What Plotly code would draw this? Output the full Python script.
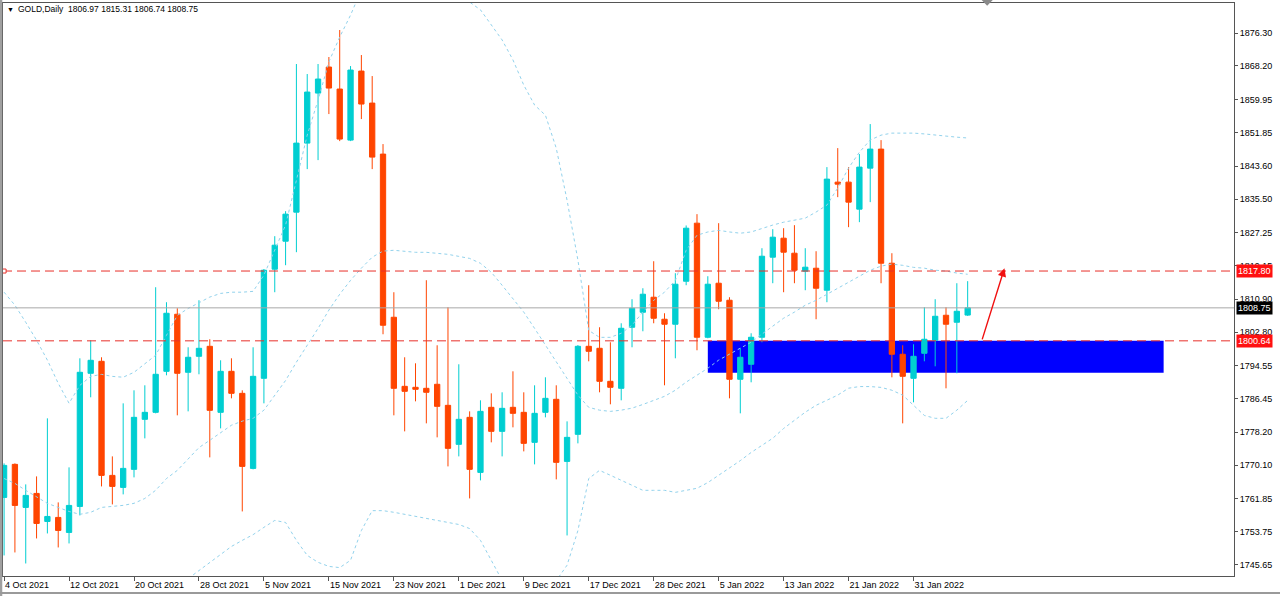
import plotly.graph_objects as go

# ---------------- data ----------------
dates = [
    "2021-10-04", "2021-10-05", "2021-10-06", "2021-10-07", "2021-10-08",
    "2021-10-11", "2021-10-12", "2021-10-13", "2021-10-14", "2021-10-15",
    "2021-10-18", "2021-10-19", "2021-10-20", "2021-10-21", "2021-10-22",
    "2021-10-25", "2021-10-26", "2021-10-27", "2021-10-28", "2021-10-29",
    "2021-11-01", "2021-11-02", "2021-11-03", "2021-11-04", "2021-11-05",
    "2021-11-08", "2021-11-09", "2021-11-10", "2021-11-11", "2021-11-12",
    "2021-11-15", "2021-11-16", "2021-11-17", "2021-11-18", "2021-11-19",
    "2021-11-22", "2021-11-23", "2021-11-24", "2021-11-25", "2021-11-26",
    "2021-11-29", "2021-11-30", "2021-12-01", "2021-12-02", "2021-12-03",
    "2021-12-06", "2021-12-07", "2021-12-08", "2021-12-09", "2021-12-10",
    "2021-12-13", "2021-12-14", "2021-12-15", "2021-12-16", "2021-12-17",
    "2021-12-20", "2021-12-21", "2021-12-22", "2021-12-23", "2021-12-27",
    "2021-12-28", "2021-12-29", "2021-12-30", "2021-12-31", "2022-01-03",
    "2022-01-04", "2022-01-05", "2022-01-06", "2022-01-07", "2022-01-10",
    "2022-01-11", "2022-01-12", "2022-01-13", "2022-01-14", "2022-01-17",
    "2022-01-18", "2022-01-19", "2022-01-20", "2022-01-21", "2022-01-24",
    "2022-01-25", "2022-01-26", "2022-01-27", "2022-01-28", "2022-01-31",
    "2022-02-01", "2022-02-02", "2022-02-03", "2022-02-04", "2022-02-07",
]

opens = [
    1762.16, 1770.28, 1759.70, 1763.14, 1756.25, 1757.24, 1753.55, 1759.94, 1792.66, 1795.61,
    1767.57, 1764.62, 1769.05, 1781.35, 1783.07, 1793.15, 1807.18, 1792.91, 1796.84, 1799.30,
    1783.07, 1793.15, 1787.74, 1769.29, 1791.43, 1818.25, 1825.13, 1832.27, 1849.24, 1861.54,
    1867.94, 1862.53, 1849.98, 1866.95, 1859.08, 1846.54, 1806.44, 1789.46, 1789.22, 1788.97,
    1789.96, 1784.79, 1775.20, 1781.84, 1768.31, 1784.30, 1778.39, 1784.30, 1783.07, 1775.69,
    1783.07, 1786.27, 1771.01, 1777.66, 1799.30, 1798.81, 1790.69, 1788.97, 1803.98, 1807.67,
    1811.36, 1805.95, 1804.72, 1815.29, 1829.56, 1801.52, 1814.80, 1810.62, 1791.19, 1794.88,
    1801.52, 1821.20, 1825.87, 1822.18, 1817.75, 1818.49, 1813.08, 1839.65, 1839.65, 1833.01,
    1843.09, 1847.77, 1819.72, 1797.34, 1791.43, 1797.58, 1800.78, 1806.93, 1805.21, 1806.97,
]

highs = [
    1770.52, 1770.52, 1765.36, 1767.32, 1781.59, 1760.93, 1769.54, 1796.35, 1800.78, 1796.60,
    1772.24, 1785.28, 1788.48, 1789.71, 1813.82, 1810.13, 1808.65, 1799.06, 1810.62, 1801.03,
    1795.86, 1796.35, 1788.48, 1799.06, 1818.30, 1826.36, 1832.51, 1868.68, 1866.22, 1868.68,
    1870.40, 1877.04, 1868.18, 1870.89, 1865.72, 1849.00, 1812.59, 1796.60, 1795.12, 1815.54,
    1799.55, 1808.90, 1794.88, 1783.31, 1786.02, 1787.74, 1787.99, 1793.15, 1787.99, 1789.71,
    1791.68, 1789.71, 1780.85, 1799.60, 1814.31, 1803.98, 1800.29, 1804.96, 1810.87, 1813.57,
    1820.21, 1807.42, 1817.26, 1829.00, 1831.78, 1816.52, 1829.56, 1811.36, 1798.81, 1802.50,
    1823.41, 1828.09, 1828.33, 1829.07, 1823.41, 1822.67, 1843.34, 1848.01, 1843.34, 1846.54,
    1853.92, 1849.98, 1822.18, 1799.55, 1799.80, 1808.90, 1810.87, 1808.90, 1814.80, 1815.31,
]

lows = [
    1747.89, 1748.63, 1745.92, 1752.07, 1753.30, 1749.86, 1750.84, 1757.73, 1786.76, 1764.86,
    1760.44, 1762.90, 1767.08, 1776.67, 1782.82, 1792.17, 1782.33, 1783.31, 1792.42, 1772.00,
    1779.13, 1786.51, 1758.71, 1769.05, 1785.28, 1812.59, 1819.23, 1822.43, 1842.85, 1845.06,
    1856.38, 1849.73, 1849.73, 1855.15, 1842.85, 1802.26, 1782.33, 1778.39, 1785.77, 1780.36,
    1776.92, 1769.78, 1772.24, 1761.91, 1766.34, 1775.69, 1772.24, 1779.38, 1773.47, 1770.28,
    1781.84, 1766.59, 1752.81, 1775.44, 1795.61, 1787.99, 1785.04, 1786.02, 1799.06, 1802.99,
    1804.96, 1789.71, 1796.35, 1814.31, 1798.32, 1801.27, 1808.41, 1786.51, 1782.82, 1790.45,
    1800.29, 1814.80, 1812.59, 1814.80, 1813.08, 1805.95, 1810.13, 1835.96, 1828.58, 1829.81,
    1834.73, 1814.80, 1791.68, 1780.36, 1785.53, 1795.61, 1794.38, 1788.97, 1792.66, 1806.74,
]

closes = [
    1770.03, 1760.19, 1762.65, 1755.76, 1757.48, 1754.04, 1760.19, 1792.91, 1795.86, 1767.57,
    1764.86, 1769.29, 1781.84, 1783.07, 1792.42, 1807.42, 1792.66, 1796.60, 1798.81, 1783.56,
    1793.15, 1787.74, 1769.78, 1791.92, 1818.00, 1824.15, 1831.78, 1849.24, 1861.79, 1864.99,
    1862.77, 1850.23, 1867.20, 1858.84, 1845.80, 1804.47, 1788.97, 1788.23, 1788.73, 1787.99,
    1784.54, 1774.21, 1781.35, 1769.05, 1783.31, 1778.39, 1784.05, 1782.82, 1775.44, 1782.82,
    1786.51, 1770.77, 1776.92, 1799.30, 1798.07, 1790.69, 1789.22, 1803.73, 1808.65, 1812.10,
    1806.19, 1804.72, 1814.56, 1828.33, 1801.52, 1814.56, 1810.37, 1791.19, 1796.60, 1801.52,
    1821.44, 1826.12, 1822.43, 1818.00, 1818.74, 1813.57, 1840.39, 1839.16, 1834.73, 1843.34,
    1847.77, 1819.72, 1797.34, 1791.92, 1796.84, 1801.03, 1806.68, 1804.72, 1807.91, 1808.75,
]

# Bollinger band lines
bb_upper = [
    1812.6, 1809.4, 1805.2, 1800.8, 1795.9, 1790.2, 1785.3, 1789.7, 1791.9, 1792.4,
    1791.9, 1791.7, 1792.9, 1794.9, 1797.1, 1802.0, 1806.9, 1808.6, 1810.1, 1811.4,
    1812.3, 1812.6, 1812.6, 1812.8, 1816.8, 1822.9, 1829.1, 1840.1, 1851.2, 1859.8,
    1869.2, 1875.3, 1880.7, 1886.9, 1890.6, 1891.8, 1893.0, 1893.0, 1893.0, 1891.8,
    1890.6, 1888.1, 1885.6, 1883.9, 1882.0, 1878.3, 1874.6, 1869.7, 1863.5, 1858.6,
    1856.1, 1848.0, 1835.2, 1820.5, 1803.2, 1801.5, 1801.5, 1802.5, 1804.5, 1807.7,
    1810.6, 1812.6, 1815.5, 1822.9, 1826.6, 1827.4, 1827.8, 1827.4, 1827.1, 1827.4,
    1828.3, 1829.1, 1829.8, 1830.3, 1830.8, 1832.3, 1834.0, 1838.2, 1843.1, 1847.0,
    1850.0, 1851.2, 1851.7, 1851.7, 1851.7, 1851.5, 1851.2, 1851.0, 1850.7, 1850.5,
]

bb_middle = [
    1766.8, 1765.6, 1763.9, 1762.2, 1760.7, 1759.7, 1758.7, 1758.0, 1758.5, 1759.7,
    1759.9, 1760.2, 1760.7, 1761.9, 1763.9, 1766.8, 1768.8, 1771.7, 1774.4, 1776.2,
    1778.1, 1779.9, 1780.9, 1781.6, 1783.6, 1787.3, 1790.9, 1795.4, 1799.5, 1803.7,
    1808.2, 1812.1, 1815.5, 1818.5, 1821.2, 1822.7, 1822.9, 1822.7, 1822.4, 1822.4,
    1822.2, 1821.9, 1821.4, 1820.9, 1819.7, 1817.5, 1814.3, 1811.1, 1807.7, 1803.7,
    1799.5, 1795.4, 1791.4, 1787.3, 1784.3, 1783.6, 1783.3, 1783.6, 1784.1, 1785.0,
    1786.0, 1787.0, 1788.5, 1790.5, 1792.2, 1793.9, 1795.9, 1797.3, 1798.8, 1800.3,
    1802.3, 1804.2, 1806.2, 1807.7, 1809.4, 1810.6, 1812.1, 1813.6, 1815.0, 1816.5,
    1818.0, 1819.0, 1819.5, 1819.2, 1818.7, 1818.5, 1818.0, 1817.8, 1817.3, 1817.0,
]

bb_lower = [
    1731.9, 1730.7, 1729.4, 1728.9, 1728.4, 1727.9, 1727.5, 1727.0, 1728.2, 1729.9,
    1731.4, 1732.9, 1734.4, 1735.8, 1737.3, 1738.8, 1740.3, 1742.2, 1744.2, 1746.2,
    1748.1, 1750.1, 1751.6, 1753.0, 1754.8, 1756.5, 1756.0, 1751.6, 1747.9, 1746.2,
    1745.2, 1744.9, 1746.7, 1754.0, 1758.9, 1758.9, 1758.5, 1758.0, 1757.5, 1757.0,
    1756.5, 1756.0, 1755.5, 1754.5, 1751.6, 1746.7, 1741.7, 1736.8, 1734.4, 1736.8,
    1739.3, 1741.7, 1745.5, 1754.0, 1766.8, 1768.8, 1767.6, 1766.3, 1765.1, 1763.9,
    1763.9, 1763.9, 1763.4, 1763.9, 1764.4, 1765.8, 1767.6, 1769.3, 1771.2, 1773.2,
    1774.9, 1776.7, 1779.1, 1781.1, 1783.1, 1784.8, 1786.0, 1787.3, 1789.0, 1789.4,
    1789.4, 1789.2, 1788.5, 1787.3, 1784.8, 1782.3, 1781.6, 1781.6, 1783.6, 1786.0,
]

tick_labels = [
    "4 Oct 2021", "12 Oct 2021", "20 Oct 2021", "28 Oct 2021", "5 Nov 2021",
    "15 Nov 2021", "23 Nov 2021", "1 Dec 2021", "9 Dec 2021", "17 Dec 2021",
    "28 Dec 2021", "5 Jan 2022", "13 Jan 2022", "21 Jan 2022", "31 Jan 2022",
]
price_ticks = [
    1876.30, 1868.20, 1859.95, 1851.85, 1843.60, 1835.50, 1827.25, 1819.15, 1810.90,
    1802.80, 1794.55, 1786.45, 1778.20, 1770.10, 1761.85, 1753.75, 1745.65,
]

level_upper = 1817.80
level_lower = 1800.64
bid_price = 1808.75
zone_bottom = 1792.80
zone_start = "2022-01-04"
zone_end_bar = 107.1          # zone extends into the future (bar number)
arrow_from = (90.3, level_lower)
arrow_to = (92.4, 1818.5)
symbol = "GOLD,Daily"
header_ohlc = ["1806.97", "1815.31", "1806.74", "1808.75"]

# ---------------- styling ----------------
UP = "#00CED1"
DOWN = "#FF4500"
BAND = "#92D2EC"
FONT = "Liberation Sans"
x_range = [-0.1, 113.6]
y_range = [1742.84, 1883.68]

fig = go.Figure()

for band in (bb_upper, bb_middle, bb_lower):
    fig.add_trace(go.Scatter(
        x=dates, y=band, mode="lines",
        line=dict(color=BAND, width=1, dash="dot"),
        hoverinfo="skip", showlegend=False,
    ))

fig.add_trace(go.Candlestick(
    x=dates, open=opens, high=highs, low=lows, close=closes,
    increasing=dict(line=dict(color=UP, width=1), fillcolor=UP),
    decreasing=dict(line=dict(color=DOWN, width=1), fillcolor=DOWN),
    whiskerwidth=0, showlegend=False,
))

shapes = []
# blue zone (drawn behind candles)
shapes.append(dict(type="rect", xref="x", yref="y", layer="below",
                   x0=dates.index(zone_start), x1=zone_end_bar,
                   y0=zone_bottom, y1=level_lower,
                   fillcolor="#0000FF", line=dict(width=0)))
# horizontal levels
for lvl in (level_upper, level_lower):
    shapes.append(dict(type="line", xref="paper", yref="y", x0=0, x1=1,
                       y0=lvl, y1=lvl, layer="above",
                       line=dict(color="#E8302A", width=1, dash="9px,5px")))
shapes.append(dict(type="line", xref="paper", yref="y", x0=0, x1=1,
                   y0=bid_price, y1=bid_price, layer="above",
                   line=dict(color="#A8A8A8", width=1)))
# small anchor square of the upper level line
shapes.append(dict(type="rect", xref="x", yref="y", xsizemode="pixel", ysizemode="pixel",
                   xanchor=0, yanchor=level_upper, x0=-2, x1=2, y0=-2, y1=2,
                   line=dict(color="#E8302A", width=1), fillcolor="white"))
# shift marker triangle at the top
shapes.append(dict(type="path", xref="paper", yref="paper",
                   path="M 0.7950 1.0052 L 0.8040 1.0052 L 0.7995 0.9950 Z",
                   fillcolor="#8A8A8A", line=dict(width=0)))
# window frame (left and bottom)
shapes.append(dict(type="rect", xref="paper", yref="paper",
                   x0=-0.00244, x1=-0.0006, y0=-0.035, y1=1.006,
                   fillcolor="#A0A0A0", line=dict(width=0)))
shapes.append(dict(type="line", xref="paper", yref="paper",
                   x0=-0.003, x1=1.04, y0=-0.0297, y1=-0.0297,
                   line=dict(color="#9A9A9A", width=2)))

header = symbol + "&nbsp;&nbsp;" + "&nbsp;".join(header_ohlc)
annotations = [
    dict(xref="paper", yref="paper", x=0.0105, y=0.9895, xanchor="left", yanchor="middle",
         text=header, showarrow=False, font=dict(family=FONT, size=8.5, color="#000000")),
    dict(xref="paper", yref="paper", x=0.0015, y=0.9895, xanchor="left", yanchor="middle",
         text="▼", showarrow=False, font=dict(family=FONT, size=7, color="#000000")),
    dict(x=arrow_to[0], y=arrow_to[1], ax=arrow_from[0], ay=arrow_from[1],
         xref="x", yref="y", axref="x", ayref="y", text="", showarrow=True,
         arrowhead=2, arrowsize=1.2, arrowwidth=1.4, arrowcolor="#F01010"),
]
for val, bg in ((level_upper, "#FF1010"), (bid_price, "#000000"), (level_lower, "#FF1010")):
    annotations.append(dict(xref="paper", yref="y", x=1, y=val, xanchor="left",
                            yanchor="middle", xshift=2, text=f"{val:.2f}",
                            showarrow=False, bgcolor=bg, borderpad=1,
                            font=dict(family=FONT, size=9, color="#FFFFFF")))

fig.update_layout(
    width=1280, height=596,
    margin=dict(l=3, r=46, t=3, b=20),
    paper_bgcolor="white", plot_bgcolor="white",
    showlegend=False, shapes=shapes, annotations=annotations,
    font=dict(family=FONT, size=9, color="#000000"),
    xaxis=dict(
        type="category", range=x_range, rangeslider=dict(visible=False),
        tickmode="array", tickvals=dates[::6], ticktext=tick_labels,
        ticks="outside", ticklen=4, tickcolor="#555555",
        ticklabelposition="outside right", tickfont=dict(family=FONT, size=9),
        showgrid=False, zeroline=False,
        showline=True, linecolor="#555555", linewidth=1, mirror=True,
    ),
    yaxis=dict(
        side="right", range=y_range, tickmode="array",
        tickvals=price_ticks, ticktext=[f"{v:.2f}" for v in price_ticks],
        ticks="outside", ticklen=3, tickcolor="#555555",
        tickfont=dict(family=FONT, size=9),
        showgrid=False, zeroline=False,
        showline=True, linecolor="#555555", linewidth=1, mirror=True,
    ),
    hovermode=False,
)

fig.write_html("out.html", config={"displayModeBar": False},
               post_script="document.body.style.margin='0';document.body.style.overflow='hidden';")
